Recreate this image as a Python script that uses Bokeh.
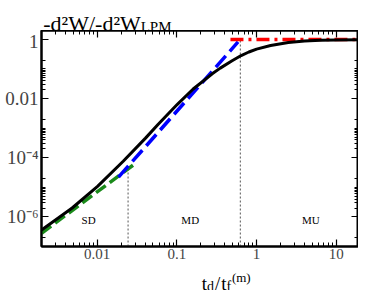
from bokeh.plotting import figure
from bokeh.layouts import column
from bokeh.models import Range1d, LogAxis, FixedTicker, CustomJSTickFormatter, ColumnDataSource
from bokeh.embed import file_html
from bokeh.resources import INLINE
from bokeh.core.properties import value

# ---- data ----
t_full = [0.002, 0.00485, 0.0101, 0.0212, 0.0404, 0.0583, 0.1014, 0.16, 0.28, 0.35,
          0.487, 0.64, 0.8, 1.0, 1.5, 2.5, 4.0, 6.3, 10.0, 19.0]
w_full = [3.6e-7, 2.0e-6, 1.08e-5, 7.6e-5, 4.6e-4, 1.35e-3, 6.4e-3, 0.021, 0.07, 0.107,
          0.187, 0.285, 0.375, 0.47, 0.625, 0.79, 0.88, 0.93, 0.955, 0.972]
t_sd = [0.002, 0.0306]
w_sd = [2.8e-7, 6.6e-5]
t_md = [0.0185, 0.585]
w_md = [2.2e-5, 0.82]
t_mu = [0.47, 19.0]
w_mu = [1.0, 1.0]
t_bound = [0.0244, 0.625]
w_bound_top = [4.3e-5, 1.0]
regions = ["SD", "MD", "MU"]
region_t = [0.0078, 0.147, 4.8]
region_w = [7.6e-7, 7.6e-7, 7.6e-7]
x_tick_vals = [0.01, 0.1, 1.0, 10.0]
x_tick_labels = ["0.01", "0.1", "1", "10"]
y_tick_vals = [1e-6, 1e-4, 1e-2, 1.0]
y_tick_labels = ["10\u207b\u2076", "10\u207b\u2074", "0.01", "1"]
x_lim = [0.002, 19.0]
y_lim = [1e-7, 2.0]
title_parts = ["-d\u00b2W/-d\u00b2W", "LPM"]
xlabel_parts = ["t", "d", "/", "t", "f", "(m)"]

SERIF = "Liberation Serif"
W = 358
YMIN = y_lim[0]


def text_strip(height):
    f = figure(width=W, height=height, x_range=Range1d(0, W), y_range=Range1d(0, height),
               output_backend="svg", toolbar_location=None, title=None,
               x_axis_location=None, y_axis_location=None, min_border=0)
    f.grid.visible = False
    f.outline_line_color = None
    f.background_fill_color = "white"
    f.border_fill_color = "white"
    return f


# ---------- title strip (y label of the chart, written on top) ----------
top = text_strip(30)
top_src = ColumnDataSource(dict(x=[2, 112], y=[7, 4], t=title_parts, s=["22px", "15px"]))
top.text(x="x", y="y", text="t", source=top_src, text_font=value(SERIF),
         text_font_size="s", text_baseline="alphabetic", text_color="black")

# ---------- main plot ----------
p = figure(width=W, height=234, x_axis_type="log", y_axis_type="log",
           x_range=Range1d(*x_lim), y_range=Range1d(*y_lim),
           output_backend="svg", toolbar_location=None, title=None,
           min_border_left=41, min_border_right=0, min_border_top=0, min_border_bottom=18)
p.grid.visible = False
p.background_fill_color = "white"
p.border_fill_color = "white"
p.outline_line_color = "black"
p.outline_line_width = 2

x_minor = [k * 10.0 ** e for e in range(-3, 2) for k in range(2, 10)]
y_minor = []
for e in (-8, -6, -4, -2):
    y_minor += [k * 10.0 ** e for k in range(2, 10)] + [10.0 ** (e + 1), 2 * 10.0 ** (e + 1)]

fmt_code = """
for (let i = 0; i < vals.length; i++) {
  if (Math.abs(Math.log(vals[i]) - Math.log(tick)) < 1e-6) return labels[i];
}
return '';
"""
xf = CustomJSTickFormatter(args=dict(vals=x_tick_vals, labels=x_tick_labels), code=fmt_code)
yf = CustomJSTickFormatter(args=dict(vals=y_tick_vals, labels=y_tick_labels), code=fmt_code)
blank = CustomJSTickFormatter(code="return '';")


def style_axis(ax):
    ax.major_tick_in = 7
    ax.major_tick_out = 0
    ax.minor_tick_in = 4
    ax.minor_tick_out = 0
    ax.major_tick_line_color = "black"
    ax.minor_tick_line_color = "black"
    ax.major_tick_line_width = 1.2
    ax.minor_tick_line_width = 1
    ax.axis_line_color = "black"
    ax.axis_line_width = 2


p.xaxis.ticker = FixedTicker(ticks=x_tick_vals, minor_ticks=x_minor)
p.yaxis.ticker = FixedTicker(ticks=y_tick_vals, minor_ticks=y_minor)
p.xaxis.formatter = xf
p.yaxis.formatter = yf
style_axis(p.xaxis[0])
style_axis(p.yaxis[0])
p.xaxis.major_label_text_font = SERIF
p.xaxis.major_label_text_font_size = "15px"
p.xaxis.major_label_standoff = 2
p.yaxis.major_label_text_font = SERIF
p.yaxis.major_label_text_font_size = "19px"
p.yaxis.major_label_standoff = 3

top_ax = LogAxis(ticker=FixedTicker(ticks=x_tick_vals, minor_ticks=x_minor), formatter=blank,
                 major_label_standoff=0, major_label_text_font_size="2px")
right_ax = LogAxis(ticker=FixedTicker(ticks=y_tick_vals, minor_ticks=y_minor), formatter=blank,
                   major_label_standoff=0, major_label_text_font_size="2px")
style_axis(top_ax)
style_axis(right_ax)
p.add_layout(top_ax, "above")
p.add_layout(right_ax, "right")

# boundaries (dotted verticals)
p.segment(x0=t_bound, y0=[YMIN] * len(t_bound), x1=t_bound, y1=w_bound_top,
          line_color="#555555", line_width=1, line_dash="2 2")

# curves
p.line(t_sd, w_sd, line_color="#1a8a1a", line_width=3.5, line_dash="12 5")
p.line(t_md, w_md, line_color="#0000ff", line_width=3.5, line_dash="15 6")
p.line(t_mu, w_mu, line_color="#ff0000", line_width=3.5, line_dash="13 5 3 5")
p.line(t_full, w_full, line_color="black", line_width=3)

src = ColumnDataSource(dict(x=region_t, y=region_w, t=regions))
p.text(x="x", y="y", text="t", source=src, text_font=value(SERIF), text_font_size="11px",
       text_align="center", text_baseline="middle", text_color="black")

# ---------- x label strip ----------
bot = text_strip(26)
bot_src = ColumnDataSource(dict(x=[181, 187, 196, 203, 209, 215], y=[7, 4, 7, 7, 4, 13],
                                t=xlabel_parts,
                                s=["19px", "14px", "19px", "19px", "14px", "13px"]))
bot.text(x="x", y="y", text="t", source=bot_src, text_font=value(SERIF),
         text_font_size="s", text_baseline="alphabetic", text_color="black")

layout = column(top, p, bot, spacing=0)
open("out.html", "w").write(file_html(layout, INLINE))
